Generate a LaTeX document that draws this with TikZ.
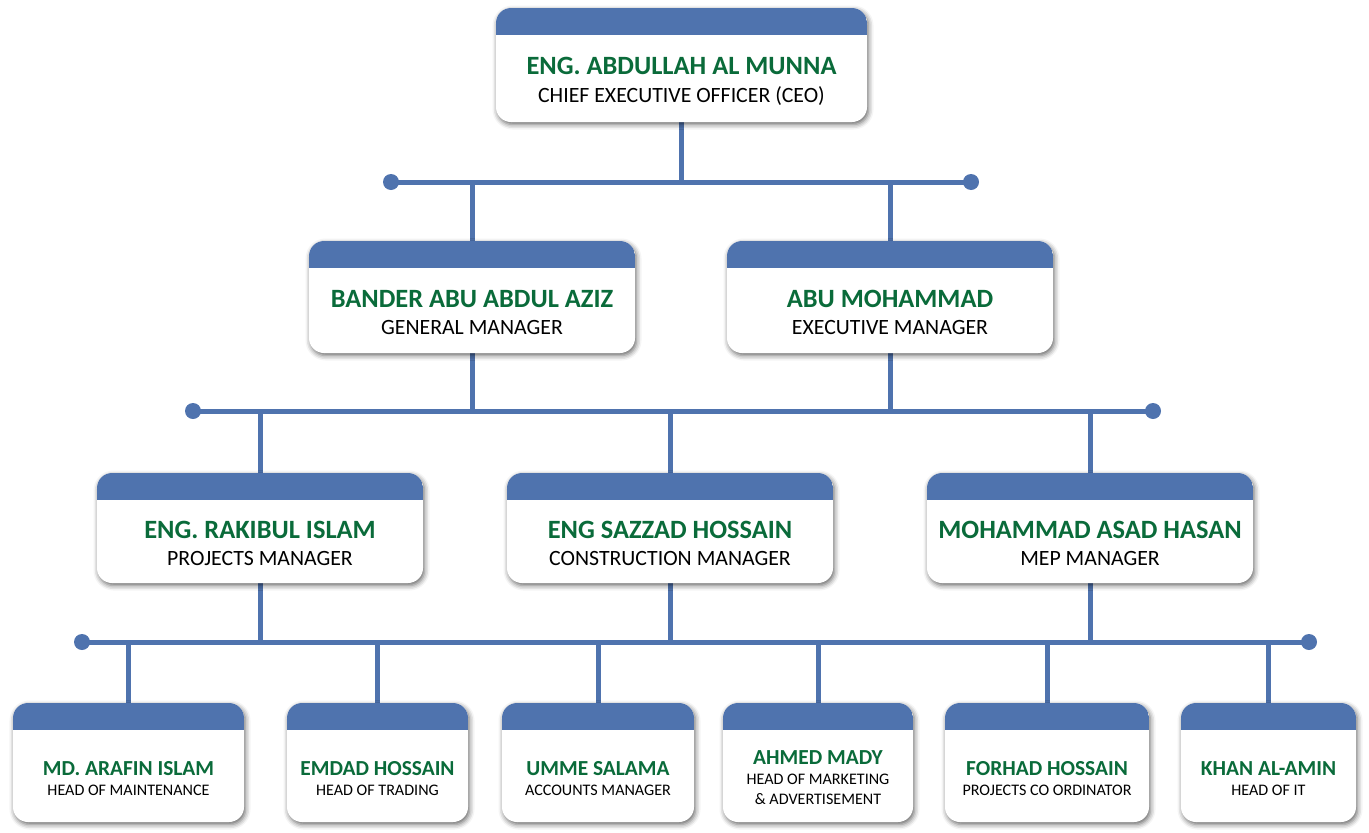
\documentclass[tikz,border=0pt]{standalone}
\usepackage{fontspec}
\setmainfont{Carlito}
\usetikzlibrary{shadows.blur}
\definecolor{bandblue}{RGB}{79,115,174}
\definecolor{namegreen}{RGB}{10,107,58}
\tikzset{
  orgbox/.style={draw=none, fill=white, rounded corners=15pt, inner sep=0pt, outer sep=0pt,
    blur shadow={shadow xshift=1.5pt, shadow yshift=-2.5pt, shadow blur radius=5pt, shadow opacity=60}},
  conn/.style={draw=bandblue, line width=5pt},
  dot/.style={fill=bandblue},
  nmA/.style={anchor=base, inner sep=0pt, text=namegreen, font=\fontsize{26.4}{30}\selectfont\bfseries},
  nmB/.style={anchor=base, inner sep=0pt, text=namegreen, font=\fontsize{21.4}{25}\selectfont\bfseries},
  sbA/.style={anchor=base, inner sep=0pt, text=black, font=\fontsize{21.8}{25}\selectfont},
  sbB/.style={anchor=base, inner sep=0pt, text=black, font=\fontsize{16.1}{19}\selectfont},
}
\newcommand\obox[5]{%
  \node[orgbox, minimum width=#4pt, minimum height=#5pt] (#1) at (#2,#3) {};
  \begin{scope}
    \clip[rounded corners=15pt] (#1.south west) rectangle (#1.north east);
    \fill[bandblue] (#1.north west) rectangle ([yshift=-27pt]#1.north east);
  \end{scope}}
\begin{document}
\begin{tikzpicture}[x=1pt,y=-1pt]
\useasboundingbox (0,0) rectangle (1369,833);
% bus coordinates
\coordinate (b1L) at (391,182); \coordinate (b1R) at (971,182);
\coordinate (b2L) at (193,411); \coordinate (b2R) at (1153,411);
\coordinate (b3L) at (82,642);  \coordinate (b3R) at (1309,642);
% boxes (positions)
\coordinate (pceo) at (681.5,65);
\coordinate (pgm) at (472,297); \coordinate (pem) at (890,297);
\coordinate (ppm) at (260,528); \coordinate (pcm) at (670,528); \coordinate (pmep) at (1090,528);
% connectors
\draw[conn] (b1L) -- (b1R);
\draw[conn] (b2L) -- (b2R);
\draw[conn] (b3L) -- (b3R);
\fill[dot] (b1L) circle (8); \fill[dot] (b1R) circle (8);
\fill[dot] (b2L) circle (8); \fill[dot] (b2R) circle (8);
\fill[dot] (b3L) circle (8); \fill[dot] (b3R) circle (8);
\draw[conn] (pceo) -- (pceo |- b1L);
\draw[conn] (pgm) -- (pgm |- b1L);
\draw[conn] (pem) -- (pem |- b1L);
\draw[conn] (pgm) -- (pgm |- b2L);
\draw[conn] (pem) -- (pem |- b2L);
\draw[conn] (ppm) -- (ppm |- b2L);
\draw[conn] (pcm) -- (pcm |- b2L);
\draw[conn] (pmep) -- (pmep |- b2L);
\draw[conn] (ppm) -- (ppm |- b3L);
\draw[conn] (pcm) -- (pcm |- b3L);
\draw[conn] (pmep) -- (pmep |- b3L);
\foreach \x in {128.5,377.5,598,818,1047,1268.5}{
  \draw[conn] (\x,642) -- (\x,762);
}
% boxes
\obox{ceo}{681.5}{65}{371}{114}
\obox{gm}{472}{297}{326}{112}
\obox{em}{890}{297}{326}{112}
\obox{pm}{260}{528}{326}{110}
\obox{cm}{670}{528}{326}{110}
\obox{mep}{1090}{528}{326}{110}
\obox{h1}{128.5}{762.5}{231}{119}
\obox{h2}{377.5}{762.5}{181}{119}
\obox{h3}{598}{762.5}{192}{119}
\obox{h4}{818}{762.5}{190}{119}
\obox{h5}{1047}{762.5}{204}{119}
\obox{h6}{1268.5}{762.5}{175}{119}
% texts
\node[nmA] (ceo-n) at (681.5,74) {ENG. ABDULLAH AL MUNNA};
\node[sbA] (ceo-s) at (681.5,102) {CHIEF EXECUTIVE OFFICER (CEO)};
\node[nmA] (gm-n) at (472,307) {BANDER ABU ABDUL AZIZ};
\node[sbA] (gm-s) at (472,334) {GENERAL MANAGER};
\node[nmA] (em-n) at (890,307) {ABU MOHAMMAD};
\node[sbA] (em-s) at (890,334) {EXECUTIVE MANAGER};
\node[nmA] (pm-n) at (260,538) {ENG. RAKIBUL ISLAM};
\node[sbA] (pm-s) at (260,565) {PROJECTS MANAGER};
\node[nmA] (cm-n) at (670,538) {ENG SAZZAD HOSSAIN};
\node[sbA] (cm-s) at (670,565) {CONSTRUCTION MANAGER};
\node[nmA] (mep-n) at (1090,538) {MOHAMMAD ASAD HASAN};
\node[sbA] (mep-s) at (1090,565) {MEP MANAGER};
\node[nmB] (h1-n) at (128.5,775) {MD. ARAFIN ISLAM};
\node[sbB] (h1-s) at (128.5,795) {HEAD OF MAINTENANCE};
\node[nmB] (h2-n) at (377.5,775) {EMDAD HOSSAIN};
\node[sbB] (h2-s) at (377.5,795) {HEAD OF TRADING};
\node[nmB] (h3-n) at (598,775) {UMME SALAMA};
\node[sbB] (h3-s) at (598,795) {ACCOUNTS MANAGER};
\node[nmB] (h4-n) at (818,764) {AHMED MADY};
\node[sbB] (h4-s) at (818,784) {HEAD OF MARKETING};
\node[sbB] (h4-t) at (818,804) {\& ADVERTISEMENT};
\node[nmB] (h5-n) at (1047,775) {FORHAD HOSSAIN};
\node[sbB] (h5-s) at (1047,795) {PROJECTS CO ORDINATOR};
\node[nmB] (h6-n) at (1268.5,775) {KHAN AL-AMIN};
\node[sbB] (h6-s) at (1268.5,795) {HEAD OF IT};
\end{tikzpicture}
\end{document}
